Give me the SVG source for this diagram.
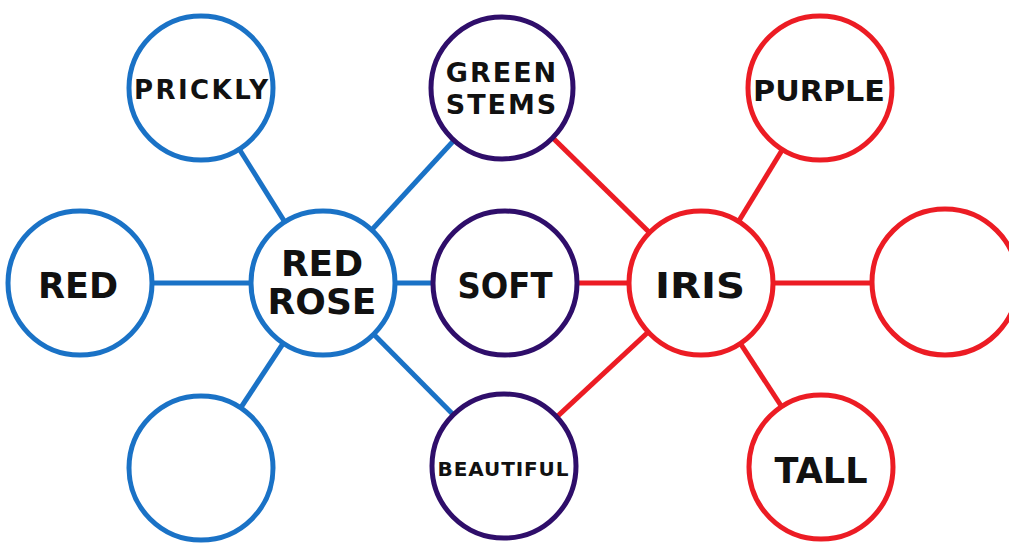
<svg xmlns="http://www.w3.org/2000/svg" width="1009" height="544" viewBox="0 0 1009 544">
<style>
.n{fill:#fff;stroke-width:5}
.b{stroke:#1a72c6}
.p{stroke:#2f0e6a}
.r{stroke:#ec1c24}
.e{stroke-width:5;fill:none}
text{font-family:"DejaVu Sans","Liberation Sans",sans-serif;font-weight:bold;fill:#111;text-anchor:middle}
</style>
<rect width="1009" height="544" fill="#fff"/>
<g id="connectors">
<line class="e b" x1="201" y1="88" x2="323" y2="283"/>
<line class="e b" x1="80" y1="283" x2="323" y2="283"/>
<line class="e b" x1="323" y1="283" x2="201" y2="468"/>
<line class="e b" x1="323" y1="283" x2="502" y2="88"/>
<line class="e b" x1="323" y1="283" x2="505" y2="283"/>
<line class="e b" x1="323" y1="283" x2="504" y2="466"/>
<line class="e r" x1="502" y1="88" x2="701" y2="283"/>
<line class="e r" x1="505" y1="283" x2="701" y2="283"/>
<line class="e r" x1="504" y1="466" x2="701" y2="283"/>
<line class="e r" x1="701" y1="283" x2="820" y2="88"/>
<line class="e r" x1="701" y1="283" x2="945" y2="283"/>
<line class="e r" x1="701" y1="283" x2="821" y2="467"/>
</g>
<g id="prickly"><circle class="n b" cx="201" cy="88" r="72"/><text x="201" y="99" font-size="26" textLength="134" lengthAdjust="spacing">PRICKLY</text></g>
<g id="red"><circle class="n b" cx="80" cy="283" r="72"/><text x="78" y="298" font-size="36" textLength="80" lengthAdjust="spacingAndGlyphs">RED</text></g>
<g id="redrose"><circle class="n b" cx="323" cy="283" r="72"/><text font-size="36"><tspan x="322" y="276">RED</tspan><tspan x="322" y="314">ROSE</tspan></text></g>
<g id="blank1"><circle class="n b" cx="201" cy="468" r="72"/></g>
<g id="greenstems"><circle class="n p" cx="502" cy="88" r="71"/><text font-size="27" letter-spacing="2"><tspan x="502" y="82">GREEN</tspan><tspan x="502" y="114">STEMS</tspan></text></g>
<g id="soft"><circle class="n p" cx="505" cy="283" r="72"/><text x="505" y="298" font-size="36" textLength="95" lengthAdjust="spacingAndGlyphs">SOFT</text></g>
<g id="beautiful"><circle class="n p" cx="504" cy="466" r="72"/><text x="503" y="476" font-size="20" textLength="131" lengthAdjust="spacing">BEAUTIFUL</text></g>
<g id="iris"><circle class="n r" cx="701" cy="283" r="72"/><text x="700" y="298" font-size="36" textLength="90" lengthAdjust="spacingAndGlyphs">IRIS</text></g>
<g id="purple"><circle class="n r" cx="820" cy="88" r="72"/><text x="819" y="101" font-size="29" textLength="132" lengthAdjust="spacingAndGlyphs">PURPLE</text></g>
<g id="blank2"><circle class="n r" cx="945" cy="282" r="73"/></g>
<g id="tall"><circle class="n r" cx="821" cy="467" r="72"/><text x="821" y="483" font-size="36" textLength="93" lengthAdjust="spacingAndGlyphs">TALL</text></g>
</svg>
